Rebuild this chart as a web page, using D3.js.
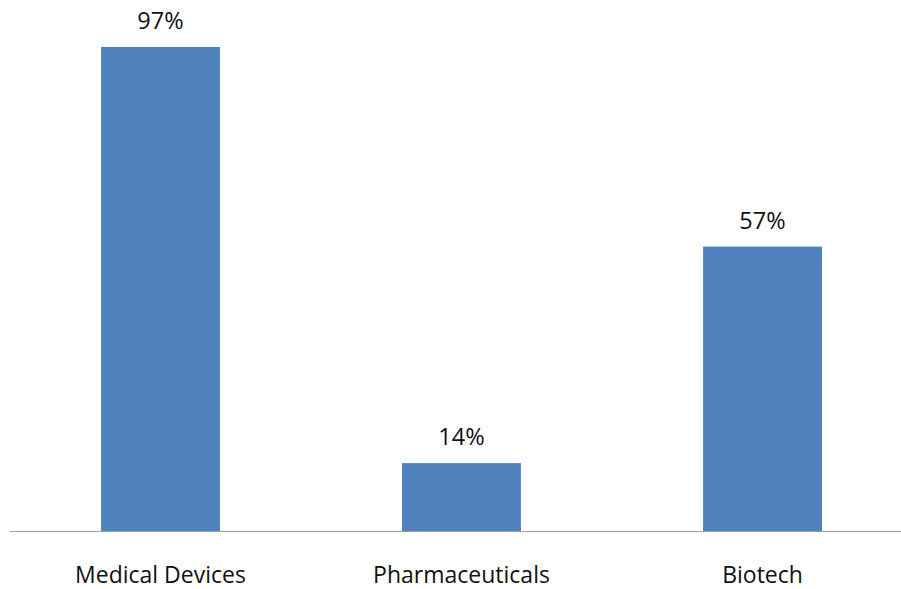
<!DOCTYPE html>
<html>
<head>
<meta charset="utf-8">
<script src="https://cdn.jsdelivr.net/npm/d3@7"></script>
<style>
  body { margin: 0; background: #fff; }
  text { font-family: "Open Sans", sans-serif; fill: #111; }
</style>
</head>
<body>
<script>
var categories = ["Medical Devices", "Pharmaceuticals", "Biotech"]
var shares = [0.97, 0.136, 0.57]

function main() {
  width = 901
  height = 589

  canvas = d3.select("body")
  .append("svg")
  .attr("width", width)
  .attr("height", height)

  var x = d3.scaleBand()
  .domain(categories)
  .range([10, 913])
  .paddingInner(0.605)
  .paddingOuter(0.3025)

  var y = d3.scaleLinear()
  .domain([0, 1])
  .range([531, 32])

  var fmt = d3.format(".0%")

  bars = canvas.append("g").attr("class", "bars")
  bars.selectAll("rect")
  .data(shares)
  .enter()
  .append("rect")
  .attr("x", function(d, i) { return x(categories[i]) })
  .attr("y", function(d) { return y(d) })
  .attr("width", x.bandwidth())
  .attr("height", function(d) { return y(0) - y(d) })
  .attr("fill", "#4f81bd")

  bars.selectAll("text")
  .data(shares)
  .enter()
  .append("text")
  .attr("x", function(d, i) { return x(categories[i]) + x.bandwidth() / 2 })
  .attr("y", function(d) { return y(d) - 18 })
  .attr("text-anchor", "middle")
  .attr("font-size", 23.5)
  .text(function(d) { return fmt(d) })

  // baseline axis, no ticks
  canvas.append("line")
  .attr("x1", 10)
  .attr("x2", width)
  .attr("y1", y(0) + 0.5)
  .attr("y2", y(0) + 0.5)
  .attr("stroke", "#a0a0a0")
  .attr("stroke-width", 1.2)

  canvas.append("g")
  .selectAll("text")
  .data(categories)
  .enter()
  .append("text")
  .attr("x", function(d) { return x(d) + x.bandwidth() / 2 })
  .attr("y", 583)
  .attr("text-anchor", "middle")
  .attr("font-size", 23)
  .text(function(d) { return d })
}

main()
</script>
</body>
</html>
